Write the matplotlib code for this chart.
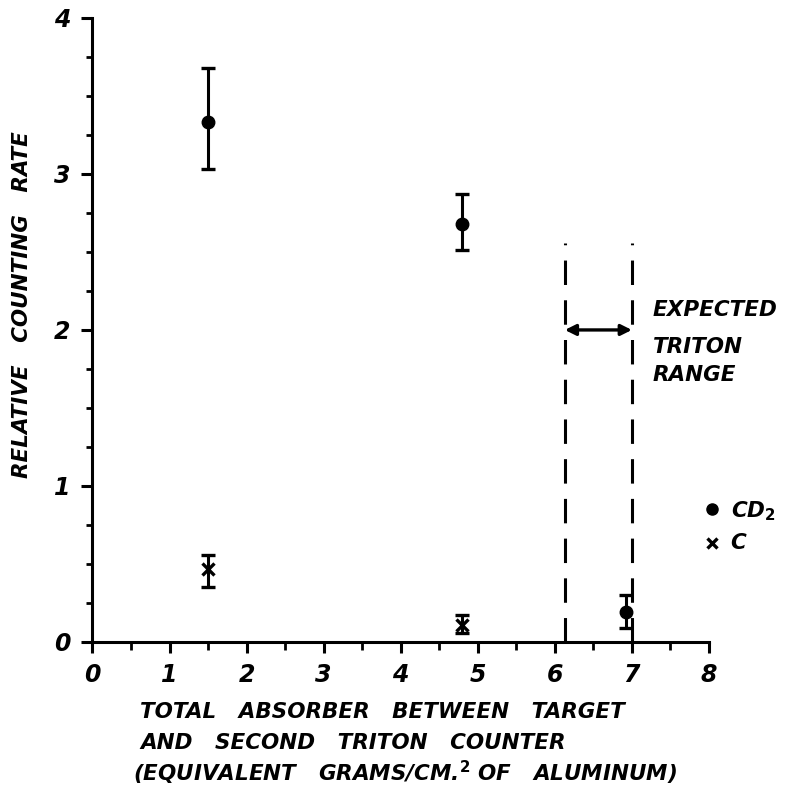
import matplotlib
matplotlib.use("Agg")
import matplotlib.pyplot as plt

# Data
cd2_x = [1.5, 4.8, 6.93]
cd2_y = [3.33, 2.68, 0.19]
cd2_lo = [3.03, 2.51, 0.09]
cd2_hi = [3.68, 2.87, 0.30]

c_x = [1.5, 4.8]
c_y = [0.47, 0.11]
c_lo = [0.35, 0.06]
c_hi = [0.56, 0.17]

range_lo = 6.13
range_hi = 7.0
range_top = 2.56
arrow_y = 2.0

x_ticks = [0, 1, 2, 3, 4, 5, 6, 7, 8]
x_ticklabels = ["0", "1", "2", "3", "4", "5", "6", "7", "8"]
y_ticks = [0, 1, 2, 3, 4]
y_ticklabels = ["0", "1", "2", "3", "4"]

FONT = dict(family="DejaVu Sans", weight="bold", style="italic")
LBL = 15.5

fig = plt.figure(figsize=(7.93, 7.92), dpi=100)
ax = fig.add_axes([0.1166, 0.1894, 0.7774, 0.788])
ax.set_xlim(0, 8)
ax.set_ylim(0, 4)

for s in ["top", "right"]:
    ax.spines[s].set_visible(False)
for s in ["left", "bottom"]:
    ax.spines[s].set_linewidth(2.2)
    ax.spines[s].set_color("black")

ax.set_xticks(x_ticks)
ax.set_xticklabels(x_ticklabels, fontsize=17, **FONT)
ax.set_xticks([v + 0.5 for v in x_ticks[:-1]], minor=True)
ax.set_yticks(y_ticks)
ax.set_yticklabels(y_ticklabels, fontsize=17, **FONT)
ax.set_yticks([v + q for v in y_ticks[:-1] for q in (0.25, 0.5, 0.75)], minor=True)
ax.tick_params(axis="x", which="major", direction="out", length=8, width=2.2, pad=7)
ax.tick_params(axis="x", which="minor", direction="out", length=6, width=2.0)
ax.tick_params(axis="y", which="major", direction="out", length=8, width=2.2, pad=8)
ax.tick_params(axis="y", which="minor", direction="out", length=4, width=2.0)

# CD2 points
ax.errorbar(cd2_x, cd2_y,
            yerr=[[y - l for y, l in zip(cd2_y, cd2_lo)], [h - y for y, h in zip(cd2_y, cd2_hi)]],
            fmt="o", color="black", markersize=9, elinewidth=2.2, capsize=5, capthick=2.4,
            clip_on=False, zorder=3)
# C points
ax.errorbar(c_x, c_y,
            yerr=[[y - l for y, l in zip(c_y, c_lo)], [h - y for y, h in zip(c_y, c_hi)]],
            fmt="x", color="black", markersize=8, markeredgewidth=2.4, elinewidth=2.2,
            capsize=5, capthick=2.4, clip_on=False, zorder=3)

# Expected triton range
for xv in (range_lo, range_hi):
    ax.plot([xv, xv], [0, range_top], color="black", lw=2.2, linestyle=(0, (8, 5)))
ax.annotate("", xy=(range_lo, arrow_y), xytext=(range_hi, arrow_y),
            arrowprops=dict(arrowstyle="<|-|>", color="black", lw=2.4,
                            mutation_scale=16, shrinkA=0, shrinkB=0))
ax.text(7.27, 2.13, "EXPECTED", fontsize=LBL, va="center", ha="left", clip_on=False, **FONT)
ax.text(7.27, 1.89, "TRITON", fontsize=LBL, va="center", ha="left", clip_on=False, **FONT)
ax.text(7.27, 1.71, "RANGE", fontsize=LBL, va="center", ha="left", clip_on=False, **FONT)

# Legend (hand-drawn key)
ax.plot([8.04], [0.85], "o", color="black", markersize=8, clip_on=False)
ax.text(8.29, 0.84, r"CD$_\mathbf{2}$", fontsize=LBL, va="center", ha="left", clip_on=False, **FONT)
ax.plot([8.04], [0.635], "x", color="black", markersize=7, markeredgewidth=2.4, clip_on=False)
ax.text(8.27, 0.635, "C", fontsize=LBL, va="center", ha="left", clip_on=False, **FONT)

# Axis labels
fig.text(140 / 793, 1 - 712 / 792, "TOTAL   ABSORBER   BETWEEN   TARGET",
         fontsize=LBL, ha="left", va="center", **FONT)
fig.text(140 / 793, 1 - 743 / 792, "AND   SECOND   TRITON   COUNTER",
         fontsize=LBL, ha="left", va="center", **FONT)
fig.text(133 / 793, 1 - 773 / 792, r"(EQUIVALENT   GRAMS/CM.$^\mathbf{2}$ OF   ALUMINUM)",
         fontsize=LBL, ha="left", va="center", **FONT)
fig.text(22 / 793, 1 - 305 / 792, "RELATIVE   COUNTING   RATE", rotation=90,
         fontsize=LBL, ha="center", va="center", **FONT)

fig.savefig("out.png", dpi=100, facecolor="white")
